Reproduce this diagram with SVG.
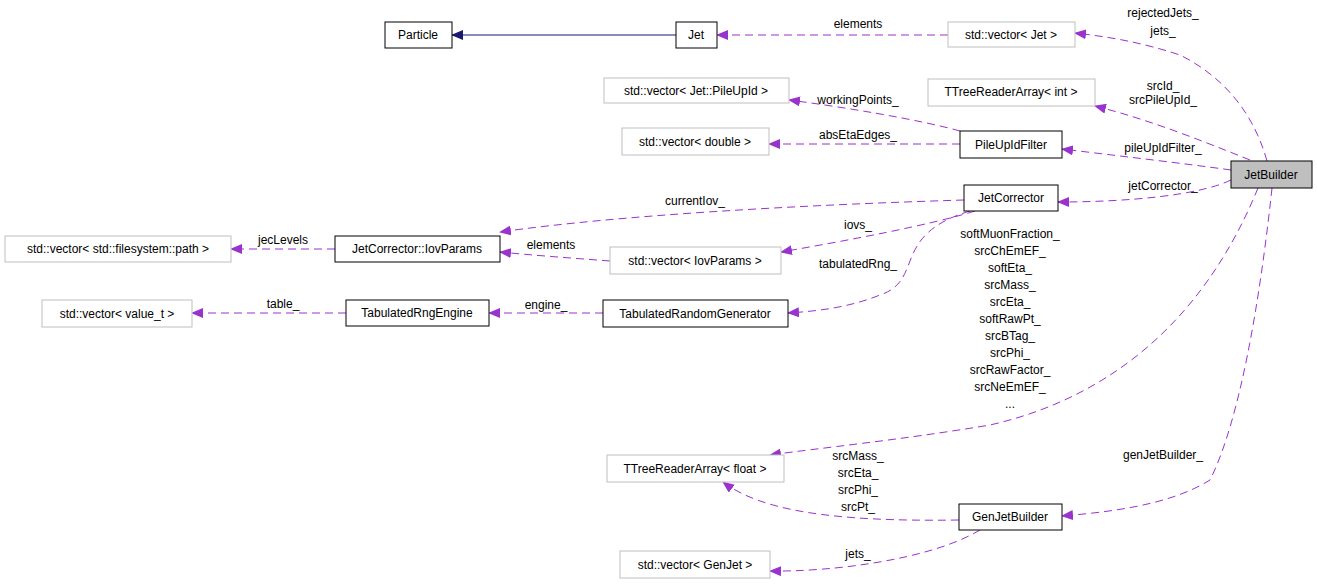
<svg xmlns="http://www.w3.org/2000/svg" width="1317" height="585" viewBox="0 0 1317 585">
<style>
.n rect{fill:#fff;stroke:#000;stroke-width:1}
.g rect{fill:#fff;stroke:#bfbfbf;stroke-width:1}
text{font-family:"Liberation Sans",Arial,sans-serif;font-size:12px;fill:#000;text-anchor:middle}
.e{fill:none;stroke:#9a32cd;stroke-width:1;stroke-dasharray:8,5}
.s{fill:none;stroke:#191970;stroke-width:1}
</style>
<defs>
<marker id="a" markerWidth="12" markerHeight="10" refX="11" refY="5" orient="auto" markerUnits="userSpaceOnUse"><path d="M0,0L12,5L0,10z" fill="#9a32cd"/></marker>
<marker id="b" markerWidth="12" markerHeight="10" refX="11" refY="5" orient="auto" markerUnits="userSpaceOnUse"><path d="M0,0L12,5L0,10z" fill="#191970"/></marker>
</defs>
<rect width="1317" height="585" fill="#fff"/>
<g id="edges">
<path class="s" d="M676,35H452" marker-end="url(#b)"/>
<path class="e" d="M948,35H717" marker-end="url(#a)"/>
<path class="e" d="M1267,161C1250,100 1210,70 1180,55C1140,42 1110,37 1075,33" marker-end="url(#a)"/>
<path class="e" d="M1250,160C1200,140 1150,120 1095,106" marker-end="url(#a)"/>
<path class="e" d="M1231,170C1180,163 1120,156 1062,149" marker-end="url(#a)"/>
<path class="e" d="M1231,180C1200,195 1130,202 1058,202" marker-end="url(#a)"/>
<path class="e" d="M960,131C920,120 850,108 789,100" marker-end="url(#a)"/>
<path class="e" d="M960,144H769" marker-end="url(#a)"/>
<path class="e" d="M964,200C800,205 620,215 500,232" marker-end="url(#a)"/>
<path class="e" d="M975,211C930,225 850,240 781,252" marker-end="url(#a)"/>
<path class="e" d="M970,211C890,235 925,280 880,295C850,307 820,311 788,313" marker-end="url(#a)"/>
<path class="e" d="M610,261C570,258 530,255 500,252" marker-end="url(#a)"/>
<path class="e" d="M335,249H231" marker-end="url(#a)"/>
<path class="e" d="M603,313H489" marker-end="url(#a)"/>
<path class="e" d="M346,313H192" marker-end="url(#a)"/>
<path class="e" d="M1258,188C1200,330 1100,400 990,425C900,440 820,448 770,455" marker-end="url(#a)"/>
<path class="e" d="M1272,188C1260,300 1240,420 1210,480C1170,505 1110,512 1062,516" marker-end="url(#a)"/>
<path class="e" d="M959,520C830,522 760,510 723,482" marker-end="url(#a)"/>
<path class="e" d="M980,530C930,560 830,572 770,571" marker-end="url(#a)"/>
</g>
<g id="labels">
<text x="858" y="28">elements</text>
<text x="1163" y="17">rejectedJets_</text>
<text x="1163" y="35">jets_</text>
<text x="1163" y="90">srcId_</text>
<text x="1163" y="104">srcPileUpId_</text>
<text x="1163" y="152">pileUpIdFilter_</text>
<text x="1163" y="190">jetCorrector_</text>
<text x="858" y="104">workingPoints_</text>
<text x="858" y="139">absEtaEdges_</text>
<text x="695" y="205">currentIov_</text>
<text x="858" y="229">iovs_</text>
<text x="858" y="268">tabulatedRng_</text>
<text x="551" y="249">elements</text>
<text x="283" y="244">jecLevels</text>
<text x="546" y="309">engine_</text>
<text x="283" y="308">table_</text>
<text x="1010" y="238">softMuonFraction_</text>
<text x="1010" y="255">srcChEmEF_</text>
<text x="1010" y="272">softEta_</text>
<text x="1010" y="289">srcMass_</text>
<text x="1010" y="306">srcEta_</text>
<text x="1010" y="323">softRawPt_</text>
<text x="1010" y="340">srcBTag_</text>
<text x="1010" y="357">srcPhi_</text>
<text x="1010" y="374">srcRawFactor_</text>
<text x="1010" y="391">srcNeEmEF_</text>
<text x="1010" y="408">...</text>
<text x="1163" y="459">genJetBuilder_</text>
<text x="858" y="460">srcMass_</text>
<text x="858" y="477">srcEta_</text>
<text x="858" y="494">srcPhi_</text>
<text x="858" y="511">srcPt_</text>
<text x="858" y="558">jets_</text>
</g>
<g id="Particle" class="n"><rect x="385" y="22" width="67" height="26"/><text x="418" y="39">Particle</text></g>
<g id="Jet" class="n"><rect x="676" y="22" width="41" height="26"/><text x="696" y="39">Jet</text></g>
<g id="vecJet" class="g"><rect x="948" y="22" width="127" height="25"/><text x="1011" y="39">std::vector&lt; Jet &gt;</text></g>
<g id="TRAint" class="g"><rect x="928" y="79" width="167" height="27"/><text x="1011" y="96">TTreeReaderArray&lt; int &gt;</text></g>
<g id="vecPU" class="g"><rect x="604" y="78" width="185" height="25"/><text x="696" y="95">std::vector&lt; Jet::PileUpId &gt;</text></g>
<g id="PileUpIdFilter" class="n"><rect x="960" y="131" width="102" height="27"/><text x="1011" y="149">PileUpIdFilter</text></g>
<g id="vecDouble" class="g"><rect x="622" y="128" width="147" height="27"/><text x="695" y="146">std::vector&lt; double &gt;</text></g>
<g id="JetBuilder"><rect x="1231" y="161" width="81" height="27" fill="#bfbfbf" stroke="#000"/><text x="1271" y="179">JetBuilder</text></g>
<g id="JetCorrector" class="n"><rect x="964" y="185" width="94" height="26"/><text x="1011" y="202">JetCorrector</text></g>
<g id="IovParams" class="n"><rect x="335" y="236" width="165" height="26"/><text x="417" y="253">JetCorrector::IovParams</text></g>
<g id="vecPath" class="g"><rect x="5" y="236" width="226" height="26"/><text x="118" y="253">std::vector&lt; std::filesystem::path &gt;</text></g>
<g id="vecIov" class="g"><rect x="610" y="247" width="171" height="27"/><text x="695" y="265">std::vector&lt; IovParams &gt;</text></g>
<g id="TabulatedRngEngine" class="n"><rect x="346" y="300" width="143" height="26"/><text x="417" y="317">TabulatedRngEngine</text></g>
<g id="vecValue" class="g"><rect x="42" y="300" width="150" height="27"/><text x="117" y="318">std::vector&lt; value_t &gt;</text></g>
<g id="TabulatedRandomGenerator" class="n"><rect x="603" y="300" width="185" height="27"/><text x="695" y="318">TabulatedRandomGenerator</text></g>
<g id="TRAfloat" class="g"><rect x="607" y="455" width="177" height="27"/><text x="695" y="473">TTreeReaderArray&lt; float &gt;</text></g>
<g id="GenJetBuilder" class="n"><rect x="959" y="504" width="103" height="26"/><text x="1010" y="521">GenJetBuilder</text></g>
<g id="vecGenJet" class="g"><rect x="620" y="551" width="150" height="27"/><text x="695" y="569">std::vector&lt; GenJet &gt;</text></g>
</svg>
